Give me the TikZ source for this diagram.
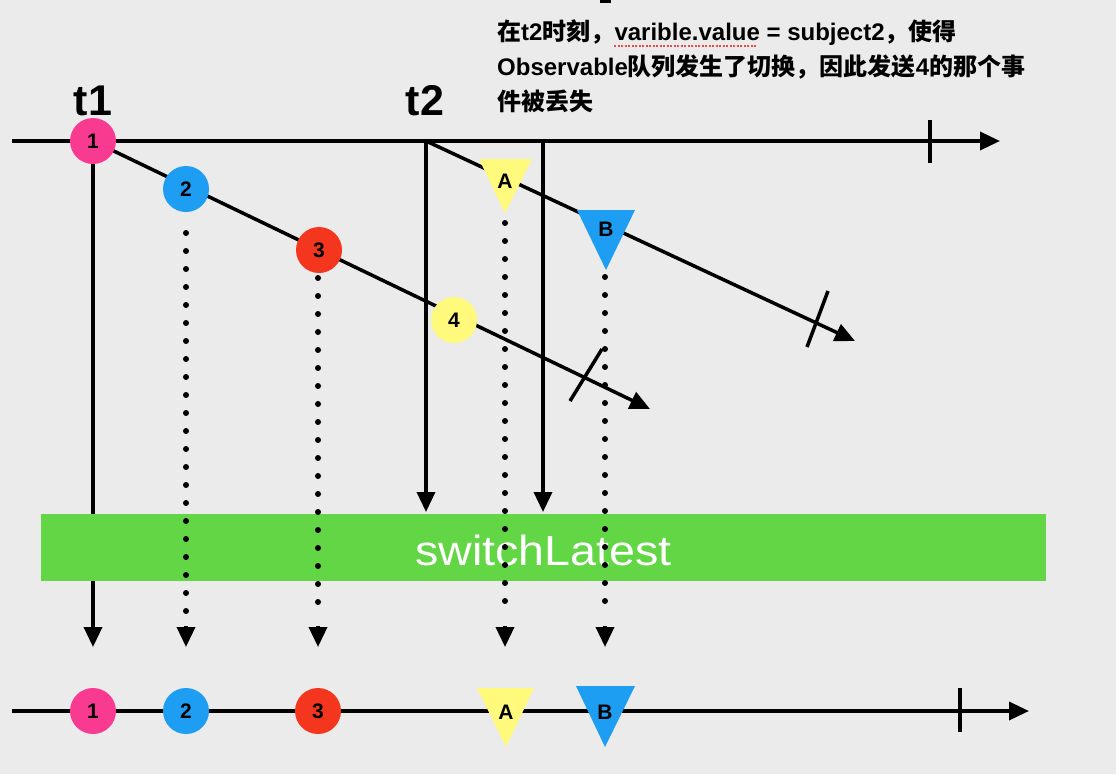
\documentclass[tikz,border=0pt]{standalone}
\usepackage{fontspec}
\usepackage{graphicx}
\setmainfont{Liberation Sans}
\newfontfamily\cjk{Noto Sans CJK SC}
\usetikzlibrary{arrows.meta}
\definecolor{bg}{HTML}{EBEBEB}
\definecolor{cpink}{HTML}{F93A91}
\definecolor{cblue}{HTML}{1E9EF3}
\definecolor{cred}{HTML}{F4361F}
\definecolor{cyel}{HTML}{FFF97C}
\definecolor{cgreen}{HTML}{63D646}
\definecolor{spell}{HTML}{E84A4A}
\tikzset{
  ln/.style={line width=3.5pt},
  arr/.style={line width=3.5pt,-{Triangle[length=20pt,width=18pt]}},
  dotln/.style={line width=6pt,line cap=round,dash pattern=on 0pt off 18pt},
  ball/.style={circle,minimum size=46pt,inner sep=0pt,font=\bfseries\fontsize{21}{21}\selectfont},
  trilabel/.style={inner sep=0pt,font=\bfseries\fontsize{21}{21}\selectfont},
  tlabel/.style={anchor=base,inner sep=0pt,font=\bfseries\fontsize{43}{43}\selectfont},
  note/.style={anchor=base west,inner sep=0pt,font=\bfseries\fontsize{24}{24}\selectfont},
}
\begin{document}
\begin{tikzpicture}[x=1pt,y=-1pt]
\useasboundingbox (0,0) rectangle (1116,774);
\fill[bg] (0,0) rectangle (1116,774);
\fill (600,0) rectangle (611,3);
% coordinates
\coordinate (p1) at (93,141);
\coordinate (p2) at (186,189);
\coordinate (p3) at (319,250);
\coordinate (p4) at (454,320);
\coordinate (pA) at (505,181);
\coordinate (pB) at (606,229);
\coordinate (t2p) at (426,141);
\coordinate (sw2) at (543,141);
\coordinate (top0) at (12,141);
\coordinate (top1) at (1000,141);
\coordinate (bot0) at (12,711);
\coordinate (bot1) at (1029,711);
\coordinate (e1) at (650,409);
\coordinate (e2) at (855,341);
% top timeline
\draw[arr] (top0) -- (top1);
\draw[ln] (930,120) coordinate (tk0a) -- (930,163) coordinate (tk0b);
% bottom timeline
\draw[arr] (bot0) -- (bot1);
\draw[ln] (960,688) coordinate (tk3a) -- (960,732) coordinate (tk3b);
% diagonal streams
\draw[arr] (p1) -- (e1);
\draw[ln] (570,401) coordinate (tk1a) -- (602,349) coordinate (tk1b);
\draw[arr] (t2p) -- (e2);
\draw[ln] (807,347) coordinate (tk2a) -- (828,291) coordinate (tk2b);
% solid verticals
\draw[arr] (p1) -- (93,647) coordinate (q1);
\draw[arr] (t2p) -- (426,512) coordinate (q2);
\draw[arr] (sw2) -- (543,512) coordinate (q3);
% operator bar
\node[fill=cgreen,minimum width=1005pt,minimum height=67pt,inner sep=0pt] (bar) at (543.5,547.5) {};
\node[anchor=base,inner sep=0pt,text=white,font=\fontsize{42}{42}\selectfont] (bartext) at (543.5,565) {\scalebox{1.11}[1]{switchLatest}};
% dotted projections
\draw[dotln] (186,233) coordinate (d2a) -- (186,613) coordinate (d2b);
\draw[arr] (186,626) coordinate (a2) -- (186,647) coordinate (b2);
\draw[dotln] (318,278) coordinate (d3a) -- (318,605) coordinate (d3b);
\draw[arr] (318,626) coordinate (a3) -- (318,647) coordinate (b3);
\draw[dotln] (505,223) coordinate (dAa) -- (505,605) coordinate (dAb);
\draw[arr] (505,626) coordinate (aA) -- (505,647) coordinate (bA);
\draw[dotln] (605,277) coordinate (dBa) -- (605,605) coordinate (dBb);
\draw[arr] (605,626) coordinate (aB) -- (605,647) coordinate (bB);
% upper events
\node[ball,fill=cpink] (c1) at (p1) {1};
\node[ball,fill=cblue] (c2) at (p2) {2};
\node[ball,fill=cred] (c3) at (p3) {3};
\node[ball,fill=cyel] (c4) at (p4) {4};
\fill[cyel] (479,159) -- (532,159) -- (505,213) -- cycle;
\node[trilabel] (A) at (pA) {A};
\fill[cblue] (577,210) -- (635,210) -- (606,270) -- cycle;
\node[trilabel] (B) at (pB) {B};
% lower events
\node[ball,fill=cpink] (o1) at (93,711) {1};
\node[ball,fill=cblue] (o2) at (186,711) {2};
\node[ball,fill=cred] (o3) at (318,711) {3};
\fill[cyel] (477,688) -- (534,688) -- (506,747) -- cycle;
\node[trilabel] (oA) at (506,712) {A};
\fill[cblue] (576,686) -- (635,686) -- (605,747) -- cycle;
\node[trilabel] (oB) at (605,712) {B};
% time labels
\node[tlabel] (t1) at (93,115) {t1};
\node[tlabel] (t2) at (425,115) {t2};
% note
\node[note] (n1) at (497,40) {{\cjk\bfseries 在}t2{\cjk\bfseries 时刻，}varible.value = subject2{\cjk\bfseries ，使得}};
\node[note] (n2) at (497,75) {Observable{\cjk\bfseries 队列发生了切换，因此发送}4{\cjk\bfseries 的那个事}};
\node[note] (n3) at (497,110) {{\cjk\bfseries 件被丢失}};
\draw[spell,line width=2pt,dash pattern=on 2pt off 1.5pt] (614,46) coordinate (u0) -- (757,46) coordinate (u1);
\end{tikzpicture}
\end{document}
